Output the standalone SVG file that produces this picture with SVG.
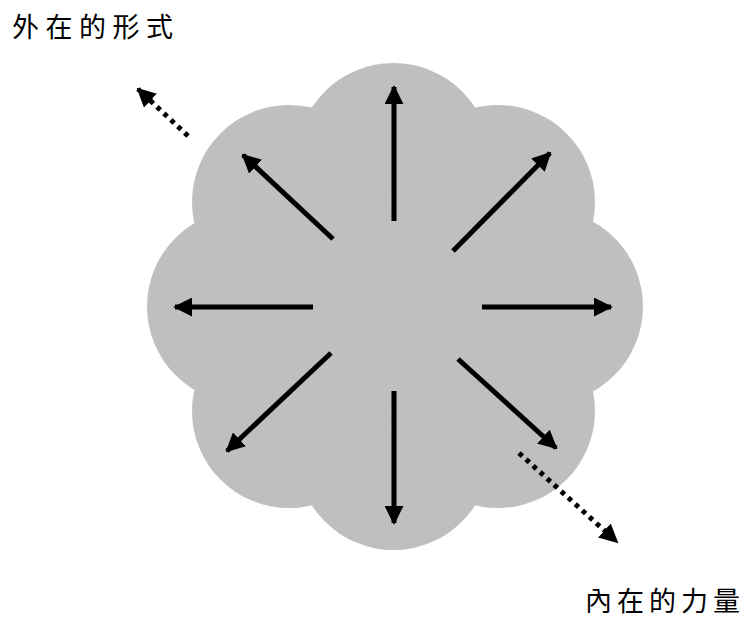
<svg xmlns="http://www.w3.org/2000/svg" width="745" height="620" viewBox="0 0 745 620">
<style>
.lobe{fill:#BFBFBF;stroke:none}
.arr{stroke:#000;stroke-width:5;fill:none}
.dot{stroke:#000;stroke-width:5;fill:none;stroke-dasharray:4.5 5}
.lbl{font-family:"Noto Sans CJK TC","Noto Sans CJK SC",sans-serif;font-size:27px;fill:#000}
</style>
<defs>
<marker id="ah" viewBox="0 0 10 10" refX="9" refY="5" markerWidth="3.8" markerHeight="3.8" orient="auto" markerUnits="strokeWidth">
<path d="M0,0 L10,5 L0,10 Z" fill="#000"/>
</marker>
</defs>
<rect width="745" height="620" fill="#fff"/>
<g id="flower">
<circle class="lobe" cx="393.5" cy="306.5" r="160"/>
<circle class="lobe" cx="393.5" cy="160" r="97"/>
<circle class="lobe" cx="393.5" cy="453" r="97"/>
<circle class="lobe" cx="546" cy="306.5" r="97"/>
<circle class="lobe" cx="244" cy="306.5" r="97"/>
<circle class="lobe" cx="289" cy="202" r="97"/>
<circle class="lobe" cx="498" cy="202" r="97"/>
<circle class="lobe" cx="289" cy="411" r="97"/>
<circle class="lobe" cx="498" cy="411" r="97"/>
</g>
<g id="connectors">
<line class="arr" x1="394" y1="221" x2="394" y2="87" marker-end="url(#ah)"/>
<line class="arr" x1="394" y1="391" x2="394" y2="523" marker-end="url(#ah)"/>
<line class="arr" x1="313" y1="307" x2="175" y2="307" marker-end="url(#ah)"/>
<line class="arr" x1="482" y1="307" x2="611" y2="307" marker-end="url(#ah)"/>
<line class="arr" x1="333" y1="239" x2="243" y2="155" marker-end="url(#ah)"/>
<line class="arr" x1="453" y1="251" x2="550" y2="153" marker-end="url(#ah)"/>
<line class="arr" x1="331" y1="353" x2="227" y2="451" marker-end="url(#ah)"/>
<line class="arr" x1="458" y1="359" x2="556" y2="448" marker-end="url(#ah)"/>
<line class="dot" x1="188" y1="136" x2="138" y2="89" marker-end="url(#ah)"/>
<line class="dot" x1="519" y1="453" x2="617" y2="542" marker-end="url(#ah)"/>
</g>
<g id="label-outer">
<text class="lbl" x="12 45.5 79 112.5 146" y="37">外在的形式</text>
</g>
<g id="label-inner">
<text class="lbl" x="585 617 649 681 713" y="611">內在的力量</text>
</g>
</svg>
